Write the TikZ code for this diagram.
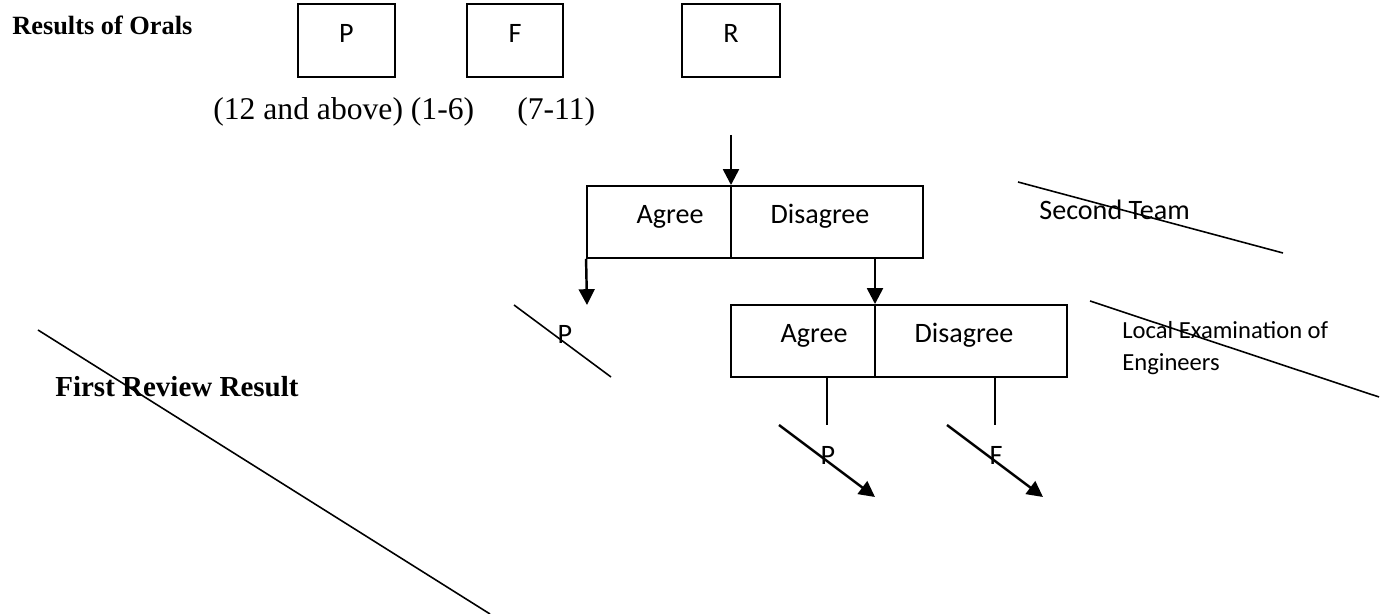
\documentclass[tikz,border=0pt]{standalone}
\usepackage{fontspec}
\setmainfont{Liberation Serif}
\newfontfamily\calib{Carlito}
\usetikzlibrary{arrows.meta}
\begin{document}
\begin{tikzpicture}[x=0.02cm,y=-0.02cm,
  box/.style={draw, line width=1.1pt, inner sep=0pt, minimum height=1.44cm},
  ctxt/.style={font=\calib\fontsize{16}{19}\selectfont, inner sep=0pt, anchor=base},
  ltxt/.style={inner sep=0pt, anchor=base west},
  arr/.style={line width=1.4pt, -{Triangle[length=9pt,width=9pt]}},
  slash/.style={line width=0.9pt},
  stem/.style={line width=0.8pt},
]
\useasboundingbox (0,0) rectangle (1386,614);

% title
\node[ltxt, font=\bfseries\fontsize{15}{18}\selectfont] (title) at (12,35) {Results of Orals};

% top boxes
\node[box, minimum width=1.94cm, minimum height=1.46cm] (bP) at (346.5,40.5) {};
\node[box, minimum width=1.92cm, minimum height=1.46cm] (bF) at (515,40.5) {};
\node[box, minimum width=1.96cm, minimum height=1.46cm] (bR) at (731,40.5) {};
\node[ctxt] (tP) at (346.5,43) {P};
\node[ctxt] (tF) at (515,43) {F};
\node[ctxt] (tR) at (731,43) {R};

\node[ltxt, font=\fontsize{18}{21}\selectfont] (rng1) at (213,120) {(12 and above) (1-6)};
\node[ltxt, font=\fontsize{18}{21}\selectfont] (rng2) at (517,120) {(7-11)};

% first decision box
\node[box, minimum width=6.72cm] (b1) at (755,222) {};
\coordinate (d1) at (731,222);
\draw[line width=1.1pt] (b1.north -| d1) -- (b1.south -| d1);
\node[ctxt] (a1) at (670,224) {Agree};
\node[ctxt] (g1) at (820,224) {Disagree};

\coordinate (in1) at (731,135);
\draw[arr] (in1) -- (in1 |- b1.north);

\coordinate (pL) at (587,305);
\draw[arr] (b1.south west) -- (pL);

% second decision box
\node[box, minimum width=6.72cm] (b2) at (899,341) {};
\coordinate (d2) at (875,341);
\draw[line width=1.1pt] (b2.north -| d2) -- (b2.south -| d2);
\node[ctxt] (a2) at (814,343) {Agree};
\node[ctxt] (g2) at (964,343) {Disagree};

\draw[arr] (b1.south -| d2) -- (b2.north -| d2);

% left P
\node[ctxt] (lp) at (565,344) {P};
\coordinate (lpa) at (514,305);
\coordinate (lpb) at (611,377);
\draw[slash] (lpa) -- (lpb);

% stems under box 2
\coordinate (v1) at (827,425);
\coordinate (v2) at (995,425);
\draw[stem] (b2.south -| v1) -- (v1);
\draw[stem] (b2.south -| v2) -- (v2);

% diagonal arrows
\coordinate (s1) at (779,425);
\coordinate (e1) at (875,497);
\coordinate (s2) at (947,425);
\coordinate (e2) at (1043,497);
\draw[arr] (s1) -- (e1);
\draw[arr] (s2) -- (e2);
\node[ctxt] (rp) at (828,465) {P};
\node[ctxt] (rf) at (996,465) {F};

% side labels
\node[ltxt, font=\calib\fontsize{16}{19}\selectfont] (st) at (1039,220) {Second Team};
\coordinate (sta) at (1018,182);
\coordinate (stb) at (1283,253);
\draw[slash] (sta) -- (stb);

\node[ltxt, font=\calib\fontsize{14}{17}\selectfont] (le1) at (1122,339) {Local Examination of};
\node[ltxt, font=\calib\fontsize{14}{17}\selectfont] (le2) at (1122,371) {Engineers};
\coordinate (lea) at (1090,301);
\coordinate (leb) at (1379,397);
\draw[slash] (lea) -- (leb);

\node[ltxt, font=\bfseries\fontsize{16.5}{20}\selectfont] (frr) at (55,397) {First Review Result};
\coordinate (fra) at (38,330);
\coordinate (frb) at (490,614);
\draw[slash] (fra) -- (frb);
\end{tikzpicture}
\end{document}
